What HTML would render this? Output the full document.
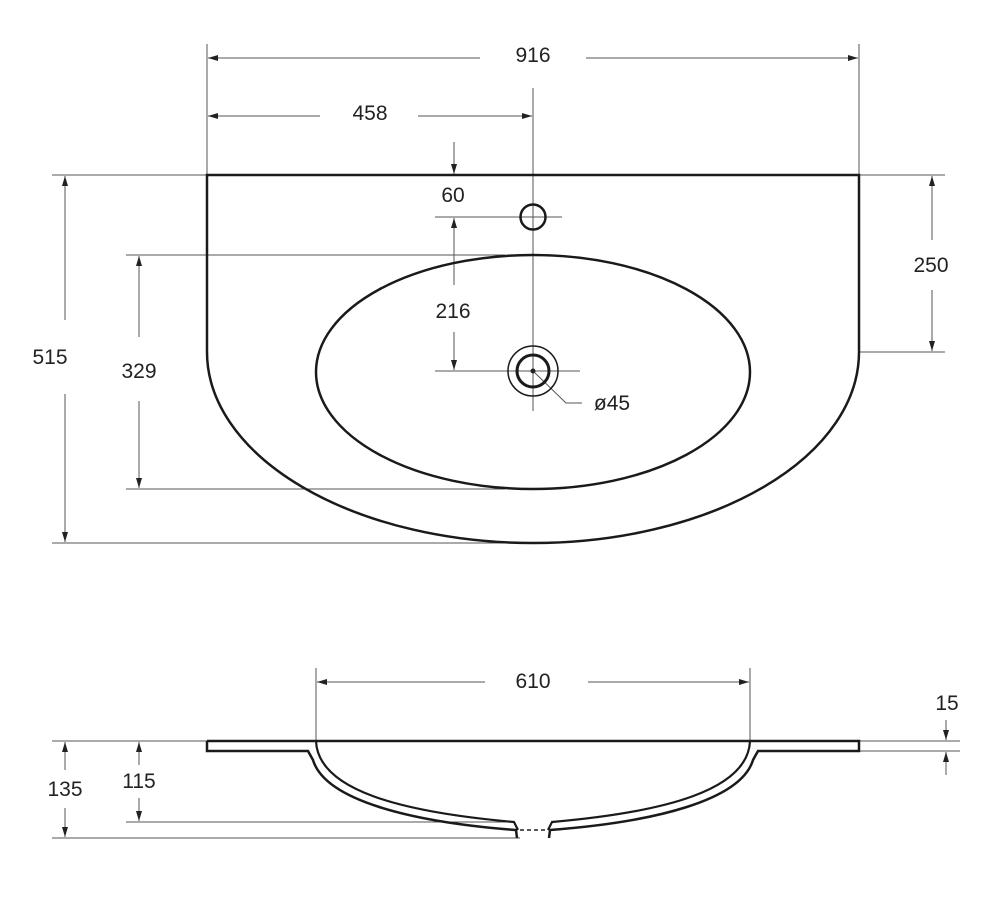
<!DOCTYPE html>
<html><head><meta charset="utf-8"><style>
html,body{margin:0;padding:0;background:#fff;width:1000px;height:898px;overflow:hidden}
text{font-family:"Liberation Sans",sans-serif;font-size:21px;fill:#222;text-anchor:middle}
</style></head><body>
<svg width="1000" height="898" viewBox="0 0 1000 898" xmlns="http://www.w3.org/2000/svg">
<defs>
<marker id="a" viewBox="0 0 10 10" refX="10" refY="5" markerWidth="10" markerHeight="10" markerUnits="userSpaceOnUse" orient="auto"><path d="M0,2 L10,5 L0,8 z" fill="#222"/></marker>
</defs>
<g stroke="#555" stroke-width="1" fill="none">
<line x1="207" y1="44" x2="207" y2="175"/><line x1="859" y1="44" x2="859" y2="175"/>
<line x1="480" y1="58" x2="208" y2="58" marker-end="url(#a)"/><line x1="586" y1="58" x2="858" y2="58" marker-end="url(#a)"/>
<line x1="320" y1="116" x2="208" y2="116" marker-end="url(#a)"/><line x1="418" y1="116" x2="532" y2="116" marker-end="url(#a)"/>
<line x1="533" y1="88" x2="533" y2="411"/>
<line x1="454" y1="142" x2="454" y2="174" marker-end="url(#a)"/>
<line x1="435" y1="217" x2="562" y2="217"/>
<line x1="454" y1="285" x2="454" y2="218" marker-end="url(#a)"/>
<line x1="454" y1="332" x2="454" y2="370" marker-end="url(#a)"/>
<line x1="435" y1="371" x2="580" y2="371"/>
<polyline points="533,371 566,403 582,403"/>
<line x1="859" y1="175" x2="945" y2="175"/><line x1="859" y1="352" x2="945" y2="352"/>
<line x1="932" y1="240" x2="932" y2="176" marker-end="url(#a)"/><line x1="932" y1="290" x2="932" y2="351" marker-end="url(#a)"/>
<line x1="52" y1="175" x2="207" y2="175"/><line x1="52" y1="543" x2="533" y2="543"/>
<line x1="65" y1="320" x2="65" y2="176" marker-end="url(#a)"/><line x1="65" y1="394" x2="65" y2="542" marker-end="url(#a)"/>
<line x1="126" y1="255" x2="505" y2="255"/><line x1="126" y1="489" x2="505" y2="489"/>
<line x1="139" y1="337" x2="139" y2="256" marker-end="url(#a)"/><line x1="139" y1="401" x2="139" y2="488" marker-end="url(#a)"/>
<line x1="316" y1="668" x2="316" y2="741"/><line x1="750" y1="668" x2="750" y2="741"/>
<line x1="485" y1="682" x2="317" y2="682" marker-end="url(#a)"/><line x1="588" y1="682" x2="749" y2="682" marker-end="url(#a)"/>
<line x1="859" y1="741" x2="960" y2="741"/><line x1="859" y1="751" x2="960" y2="751"/>
<line x1="946" y1="720" x2="946" y2="740" marker-end="url(#a)"/><line x1="946" y1="775" x2="946" y2="752" marker-end="url(#a)"/>
<line x1="52" y1="741" x2="207" y2="741"/><line x1="52" y1="838" x2="520" y2="838"/>
<line x1="65" y1="770" x2="65" y2="742" marker-end="url(#a)"/><line x1="65" y1="808" x2="65" y2="837" marker-end="url(#a)"/>
<line x1="126" y1="822" x2="514" y2="822"/>
<line x1="139" y1="765" x2="139" y2="742" marker-end="url(#a)"/><line x1="139" y1="798" x2="139" y2="821" marker-end="url(#a)"/>
</g>
<g stroke="#1a1a1a" stroke-width="2.5" fill="none">
<path d="M207,352 L207,175 L859,175 L859,352 A326,191 0 0 1 207,352"/>
<ellipse cx="533" cy="372" rx="217" ry="117"/>
<circle cx="533" cy="217" r="12.5"/>
<circle cx="533" cy="371" r="16" stroke-width="3"/>
<circle cx="533" cy="371" r="25" stroke-width="1.5"/>
<!-- side view -->
<path d="M207,741 L859,741 L859,751 L758,751 L753,760 C741,800 656,822 550,830 L549,838"/>
<path d="M207,741 L207,751 L308,751 L313,760 C325,800 410,822 516,830 L517,838"/>
<path d="M316,741 C318,790 400,812 514,822 L518,830" stroke-width="2.2"/>
<path d="M750,741 C748,790 666,812 552,822 L548,830" stroke-width="2.2"/>
</g>
<circle cx="533" cy="371" r="2.5" fill="#222"/>
<line x1="520" y1="830" x2="547" y2="830" stroke="#222" stroke-width="1.5" stroke-dasharray="4,3"/>
<text x="533" y="62">916</text>
<text x="370" y="120">458</text>
<text x="453" y="202">60</text>
<text x="453" y="318">216</text>
<text x="612" y="410">ø45</text>
<text x="931" y="272">250</text>
<text x="50" y="364">515</text>
<text x="139" y="378">329</text>
<text x="533" y="688">610</text>
<text x="947" y="710">15</text>
<text x="65" y="796">135</text>
<text x="139" y="788">115</text>
</svg>
</body></html>
